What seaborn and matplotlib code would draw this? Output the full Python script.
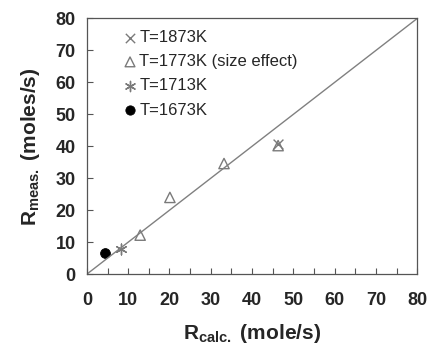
import numpy as np
import pandas as pd
import matplotlib
matplotlib.use("Agg")
import matplotlib.pyplot as plt
import seaborn as sns

# values
r_calc_1873 = [46.3]
r_meas_1873 = [40.8]
r_calc_1773 = [12.9, 20.1, 33.2, 46.3]
r_meas_1773 = [12.2, 24.0, 34.6, 40.2]
r_calc_1713 = [8.3]
r_meas_1713 = [8.0]
r_calc_1673 = [4.3]
r_meas_1673 = [6.5]
parity = [0, 80]

labels = ["T=1873K", "T=1773K (size effect)", "T=1713K", "T=1673K"]

sns.set_style("ticks")
plt.rcParams["font.family"] = ["Liberation Sans", "DejaVu Sans"]
plt.rcParams["mathtext.fontset"] = "custom"
plt.rcParams["mathtext.rm"] = "Liberation Sans"
plt.rcParams["mathtext.bf"] = "Liberation Sans:bold"

fig = plt.figure(figsize=(4.28, 3.47), dpi=100)
ax = fig.add_axes([0.203, 0.21, 0.772, 0.737])

sns.lineplot(x=parity, y=parity, color="#808080", lw=1.0, ax=ax)

grey = "#7a7a7a"
sns.scatterplot(x=r_calc_1873, y=r_meas_1873, marker="x", s=50, color=grey,
                linewidth=1.0, label=labels[0], ax=ax)
sns.scatterplot(x=r_calc_1773, y=r_meas_1773, marker="^", s=55, facecolor="none",
                edgecolor=grey, linewidth=1.0, label=labels[1], ax=ax)
sns.scatterplot(x=r_calc_1713, y=r_meas_1713, marker=(6, 2, 0), s=60, color=grey,
                linewidth=1.0, label=labels[2], ax=ax)
sns.scatterplot(x=r_calc_1673, y=r_meas_1673, marker="o", s=50, color="black",
                edgecolor="black", label=labels[3], ax=ax)

ax.set_xlim(0, 80)
ax.set_ylim(0, 80)
ax.set_xticks(np.arange(0, 81, 10))
ax.set_xticks(np.arange(5, 80, 10), minor=True)
ax.set_yticks(np.arange(0, 81, 10))
ax.tick_params(axis="both", which="both", direction="in", length=4, width=0.8,
               color="#555555", labelsize=13)
ax.tick_params(axis="x", pad=13)
ax.tick_params(axis="y", pad=8)
for t in ax.get_xticklabels() + ax.get_yticklabels():
    t.set_fontweight("bold")

for sp in ax.spines.values():
    sp.set_visible(True)
    sp.set_color("#555555")
    sp.set_linewidth(0.9)

ax.set_xlabel(r"$\mathbf{R_{calc.}}$ (mole/s)", fontsize=15, fontweight="bold", labelpad=9)
ax.set_ylabel(r"$\mathbf{R_{meas.}}$ (moles/s)", fontsize=15, fontweight="bold", labelpad=10)

leg = ax.legend(loc="upper left", frameon=False, fontsize=12, handletextpad=0.05,
                labelspacing=0.55, borderaxespad=0.3, bbox_to_anchor=(0.07, 1.0),
                handlelength=1.0, markerscale=0.95)

fig.savefig("out.png", dpi=100)
